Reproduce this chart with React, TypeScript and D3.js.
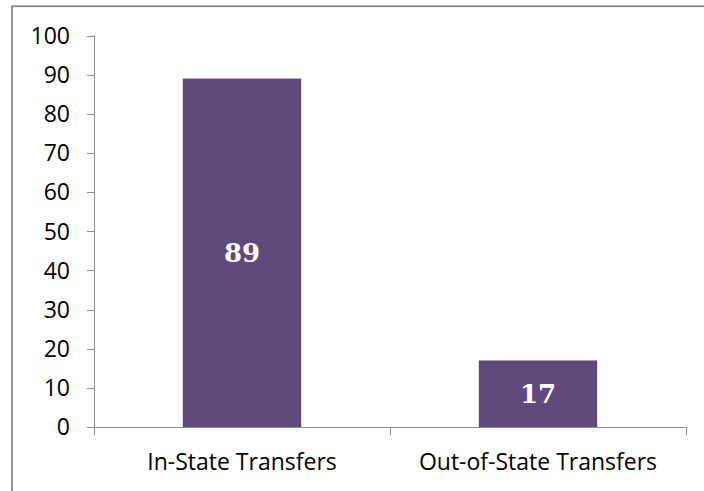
import React from "react";
import * as d3 from "d3";

const categories: string[] = ["In-State Transfers", "Out-of-State Transfers"];
const values: number[] = [89, 17];
const yTicks: number[] = [0, 10, 20, 30, 40, 50, 60, 70, 80, 90, 100];

export default function App() {
  const W = 704;
  const H = 491;
  const x0 = 94;
  const x1 = 686;
  const yBottom = 427;
  const yTop = 35.5;

  const x = d3.scaleBand<string>().domain(categories).range([x0, x1]).paddingInner(0.6).paddingOuter(0.3);
  const y = d3.scaleLinear().domain([0, 100]).range([yBottom, yTop]);
  const step = (x1 - x0) / categories.length;
  const axisColor = "#8c8c8c";
  const font = "'Open Sans', sans-serif";

  return (
    <svg width={W} height={H} style={{ position: "absolute", left: 0, top: 0, background: "#fff" }}>
      <rect x={12} y={6.25} width={W} height={H} fill="#fff" stroke="#878787" strokeWidth={1.75} />
      {/* y axis */}
      <line x1={x0 + 0.5} x2={x0 + 0.5} y1={y(100)} y2={yBottom + 8} stroke={axisColor} strokeWidth={1} />
      {yTicks.map((t) => (
        <g key={t}>
          <line x1={x0 - 7} x2={x0 + 0.5} y1={Math.round(y(t)) + 0.5} y2={Math.round(y(t)) + 0.5} stroke={axisColor} strokeWidth={1} />
          <text x={70} y={y(t)} dy="0.36em" textAnchor="end" fontFamily={font} fontSize={23} fill="#000">
            {t}
          </text>
        </g>
      ))}
      {/* bars */}
      {categories.map((c, i) => (
        <g key={c}>
          <rect x={x(c)!} y={y(values[i])} width={x.bandwidth()} height={yBottom - y(values[i])} fill="#604a7b" />
          <text
            x={x(c)! + x.bandwidth() / 2}
            y={(y(values[i]) + yBottom) / 2}
            dy="0.36em"
            textAnchor="middle"
            fontFamily="'DejaVu Serif', serif"
            fontWeight="bold"
            fontSize={26}
            fill="#fff"
          >
            {values[i]}
          </text>
        </g>
      ))}
      {/* x axis */}
      <line x1={x0} x2={x1 + 0.5} y1={yBottom + 0.5} y2={yBottom + 0.5} stroke={axisColor} strokeWidth={1} />
      {d3.range(categories.length + 1).map((i) => (
        <line key={i} x1={x0 + i * step + 0.5} x2={x0 + i * step + 0.5} y1={yBottom} y2={yBottom + 8} stroke={axisColor} strokeWidth={1} />
      ))}
      {categories.map((c) => (
        <text key={c} x={x(c)! + x.bandwidth() / 2} y={470} textAnchor="middle" fontFamily={font} fontSize={23} fill="#000">
          {c}
        </text>
      ))}
    </svg>
  );
}
